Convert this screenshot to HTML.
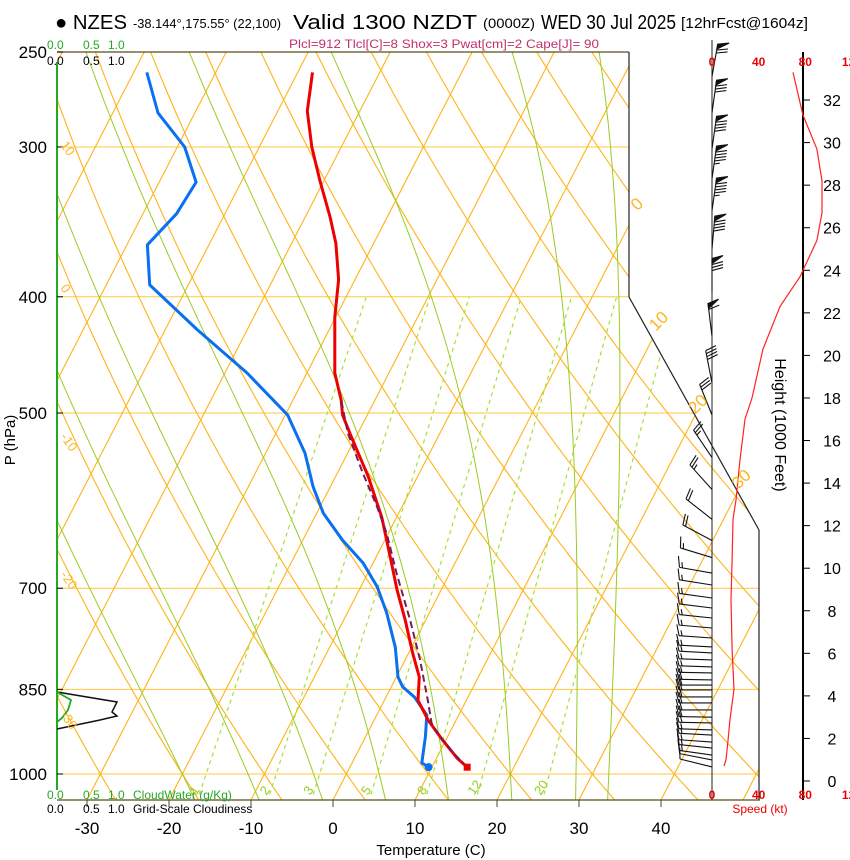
<!DOCTYPE html>
<html><head><meta charset="utf-8">
<style>
html,body{margin:0;padding:0;background:#fff;}
svg{display:block;font-family:"Liberation Sans",Arial,sans-serif;}
</style></head>
<body>
<svg id="chart" width="850" height="860" viewBox="0 0 850 860" xmlns="http://www.w3.org/2000/svg">
<defs>
<clipPath id="plotclip"><polygon points="57,52 629,52 629,297 759,530 759,800 57,800"/></clipPath>
</defs>
<g id="header">
<text x="55" y="29" font-size="20" textLength="72" lengthAdjust="spacingAndGlyphs">● NZES</text>
<text x="133" y="28" font-size="13" textLength="148" lengthAdjust="spacingAndGlyphs">-38.144°,175.55° (22,100)</text>
<text x="293" y="29" font-size="20" textLength="184" lengthAdjust="spacingAndGlyphs">Valid 1300 NZDT</text>
<text x="483" y="28" font-size="14" textLength="52" lengthAdjust="spacingAndGlyphs">(0000Z)</text>
<text x="541" y="29" font-size="20" textLength="135" lengthAdjust="spacingAndGlyphs">WED 30 Jul 2025</text>
<text x="681" y="28" font-size="15" textLength="127" lengthAdjust="spacingAndGlyphs">[12hrFcst@1604z]</text>
<text x="289" y="48" font-size="12" fill="#c0306b" textLength="310" lengthAdjust="spacingAndGlyphs">Plcl=912 Tlcl[C]=8 Shox=3 Pwat[cm]=2 Cape[J]= 90</text>
</g>
<g id="grid" clip-path="url(#plotclip)"></g>
<g id="frame"></g>
<g id="traces" clip-path="url(#plotclip)"></g>
<g id="barbs"></g>
<g id="labels"></g>
</svg>
<script>
// ---- data ----
const pressureTicks = [250, 300, 400, 500, 700, 850, 1000];
const tempTicks = [-30, -20, -10, 0, 10, 20, 30, 40];
const isothermLabels = [0, 10, 20, 30];
const adiabatLabels = [10, 0, -10, -20, -30];
const mixRatios = [1, 2, 3, 5, 8, 12, 20];
const moistThetaW = [-20, -12, -4, 4, 12, 20, 28, 32];
const heightTicks = [0, 2, 4, 6, 8, 10, 12, 14, 16, 18, 20, 22, 24, 26, 28, 30, 32];
const speedTicks = [0, 40, 80, 120];

const tempP = [987, 970, 937, 902, 868, 830, 793, 744, 702, 659, 611, 565, 524, 502, 488, 463, 416, 387, 361, 343, 320, 300, 280, 260];
const tempT = [14.3, 12.5, 9.6, 6.6, 4.1, 2.8, 0.5, -2.5, -5.4, -8.3, -11.8, -16.0, -20.5, -23.0, -24.1, -26.6, -30.1, -32.0, -34.6, -37.0, -40.5, -43.6, -46.4, -48.2];
const dewP = [987, 979, 931, 893, 863, 846, 830, 784, 734, 698, 667, 638, 606, 576, 540, 502, 463, 426, 391, 362, 341, 321, 300, 281, 260];
const dewT = [9.6, 8.5, 7.3, 6.1, 3.5, 1.4, 0.2, -2.0, -5.2, -8.0, -11.2, -15.2, -19.2, -22.1, -25.2, -29.7, -37.3, -46.1, -54.7, -57.5, -55.9, -55.5, -59.1, -64.5, -68.4];
const parcelP = [987, 959, 924, 907, 868, 803, 744, 680, 630, 599, 561, 520, 488];
const parcelT = [14.3, 11.6, 8.5, 7.2, 5.3, 1.8, -1.9, -6.5, -10.2, -13.0, -16.9, -21.2, -24.1];

const speedH = [0.7, 1.0, 1.9, 2.9, 4.3, 6.2, 8.5, 10.4, 12.3, 13.2, 15.1, 17.0, 18.0, 20.3, 22.3, 23.7, 25.4, 26.7, 28.2, 29.7, 31.3, 33.3];
const speedKt = [10.3, 12.0, 13.7, 15.4, 18.9, 17.2, 16.3, 17.2, 18.0, 20.6, 24.0, 28.3, 34.3, 43.7, 58.3, 75.5, 90, 94.3, 94.3, 90, 78, 69.5];

const barbH = [0.66, 0.99, 1.22, 1.55, 1.83, 2.16, 2.4, 2.73, 3.0, 3.34, 3.67, 3.95, 4.28, 4.51, 4.75, 5.08, 5.36, 5.69, 6.02, 6.3, 6.72, 7.19, 7.66, 8.13, 8.6, 9.21, 9.77, 10.5, 11.3, 12.3, 13.7, 15.2, 17.2, 18.7, 20.9, 23.0, 25.0, 26.8, 28.3, 29.7, 31.4, 33.1];
const barbDir = [284, 281, 278, 276, 274, 273, 272, 271, 271, 270, 270, 270, 270, 270, 271, 271, 272, 272, 273, 273, 274, 275, 276, 277, 278, 279, 280, 287, 298, 308, 318, 326, 338, 349, 353, 0, 5, 8, 8, 8, 8, 10];
const barbSpd = [10, 12, 14, 15, 16, 17, 17, 18, 18, 19, 19, 19, 19, 18, 18, 17, 17, 17, 17, 17, 17, 16, 16, 16, 16, 16, 17, 17, 18, 20, 23, 25, 30, 40, 60, 80, 90, 95, 95, 90, 80, 70];

// ---- axes ----
const X0 = 333, SX = 8.2, SK = 0.515, YB = 800, Y1000 = 774, KP = 520.8;
function yP(p) { return Y1000 - KP * Math.log(1000 / p); }
function xT(T, p) { return X0 + SX * T + SK * (YB - yP(p)); }
function pY(y) { return 1000 * Math.exp((y - Y1000) / KP); }
function yH(h) { return 781 - 21.28 * h; }
function xS(s) { return 712 + 1.166 * s; }

const NS = 'http://www.w3.org/2000/svg';
function mk(tag, attrs, parent) {
  const e = document.createElementNS(NS, tag);
  for (const k in attrs) e.setAttribute(k, attrs[k]);
  parent.appendChild(e);
  return e;
}
const grid = document.getElementById('grid');
const frame = document.getElementById('frame');
const traces = document.getElementById('traces');
const barbs = document.getElementById('barbs');
const labels = document.getElementById('labels');
const ORANGE = '#ffb31a', GREEN = '#99cc22', MIXG = '#a6e033';

// isobars
pressureTicks.forEach(p => {
  if (p === 250) return;
  const y = yP(p);
  const l = mk('line', {x1: 57, x2: 760, y1: y, y2: y, stroke: '#ffc840', 'stroke-width': 1}, grid);
  
  
});
// isotherms
for (let T = -130; T <= 50; T += 10) {
  const l = mk('line', {x1: xT(T, pY(YB)), y1: YB, x2: xT(T, 250), y2: 52, stroke: ORANGE, 'stroke-width': 1.1}, grid);
  
  
}
// dry adiabats
for (let th = -40; th <= 200; th += 10) {
  let d = '';
  for (let p = 1060; p >= 245; p -= 10) {
    const T = (th + 273.15) * Math.pow(p / 1000, 0.286) - 273.15;
    d += (d ? 'L' : 'M') + xT(T, p).toFixed(1) + ',' + yP(p).toFixed(1);
  }
  const l = mk('path', {d: d, fill: 'none', stroke: ORANGE, 'stroke-width': 1.1}, grid);
  
  
}
// moist adiabats
function es(T) { return 6.112 * Math.exp(17.67 * T / (T + 243.5)); }
function dTdp(T, p) {
  const Tk = T + 273.15, e = es(T), rs = 0.622 * e / (p - e);
  return (287 * Tk + 2.5e6 * rs) / (p * (1004 + 2.5e6 * 2.5e6 * rs * 0.622 / (287 * Tk * Tk)));
}
moistThetaW.forEach(tw => {
  const up = [], dn = [];
  let T = tw;
  for (let p = 1000; p >= 250; p -= 5) { up.push([p, T]); T -= dTdp(T, p) * 5; }
  T = tw;
  for (let p = 1000; p <= 1060; p += 5) { dn.push([p, T]); T += dTdp(T, p) * 5; }
  const pts = dn.reverse().concat(up);
  const d = pts.map((q, i) => (i ? 'L' : 'M') + xT(q[1], q[0]).toFixed(1) + ',' + yP(q[0]).toFixed(1)).join('');
  const l = mk('path', {d: d, fill: 'none', stroke: GREEN, 'stroke-width': 1}, grid);
  
  
});
// mixing ratio lines
function tdFromW(w, p) {
  const e = w * p / (622 + w), a = Math.log(e / 6.112);
  return 243.5 * a / (17.67 - a);
}
mixRatios.forEach(w => {
  const p1 = 1040, p2 = 400;
  const l = mk('line', {x1: xT(tdFromW(w, p1), p1), y1: yP(p1), x2: xT(tdFromW(w, p2), p2), y2: yP(p2), stroke: MIXG, 'stroke-width': 1.2, 'stroke-dasharray': '4,4'}, grid);
  
  
  const lp = 1035;
  const lx = xT(tdFromW(w, lp), lp) - 4, ly = yP(lp) + 4;
  const t = mk('text', {x: lx, y: ly, 'font-size': 13, fill: '#99cc22', transform: 'rotate(-55 ' + lx + ' ' + ly + ')'}, labels);
  t.textContent = w;
  
  
});

// frame
[[57,52,629,52,'#5a4a1a'],[629,52,629,297,'#222'],[629,297,759,530,'#222'],[759,530,759,800,'#222'],[57,800,760,800,'#5a4a1a']].forEach(s => {
  const l = mk('line', {x1: s[0], y1: s[1], x2: s[2], y2: s[3], stroke: s[4], 'stroke-width': 1.2}, frame);
  
  
});
{
  const l = mk('line', {x1: 712, y1: 40, x2: 712, y2: 800, stroke: '#222', 'stroke-width': 1}, frame);
  
  
  const h = mk('line', {x1: 803, y1: 52, x2: 803, y2: 800, stroke: '#000', 'stroke-width': 2}, frame);
  
  
  const g = mk('line', {x1: 57, y1: 62, x2: 57, y2: 790, stroke: '#22aa22', 'stroke-width': 2}, frame);
  
  
}
// cloud profiles
{
  const c = mk('path', {d: 'M57,692 L117,702 L112,712 L117,716 L100,720 L57,729', fill: 'none', stroke: '#111', 'stroke-width': 1.5}, frame);
  
  
  const w = mk('path', {d: 'M57,692 L71,700 L68,710 L62,718 L57,722', fill: 'none', stroke: '#22aa22', 'stroke-width': 1.8}, frame);
  
  
}

// traces
function line(P, T, color, width, dash, name) {
  const d = P.map((p, i) => (i ? 'L' : 'M') + xT(T[i], p).toFixed(1) + ',' + yP(p).toFixed(1)).join('');
  const a = {d: d, fill: 'none', stroke: color, 'stroke-width': width, 'stroke-linejoin': 'round'};
  if (dash) a['stroke-dasharray'] = dash;
  const e = mk('path', a, traces);
  
  
}
line(dewP, dewT, '#0a6ff0', 3, null, 'dewpoint-trace');
line(tempP, tempT, '#ee0000', 3, null, 'temperature-trace');
line(parcelP, parcelT, '#7a1a5a', 2, '7,4', 'parcel-trace');
{
  const d = mk('circle', {cx: xT(dewT[0], dewP[0]), cy: yP(dewP[0]), r: 4, fill: '#0a6ff0'}, traces);
  
  
  const t = mk('rect', {x: xT(tempT[0], tempP[0]) - 3.5, y: yP(tempP[0]) - 3.5, width: 7, height: 7, fill: '#ee0000'}, traces);
  
  
}
// wind speed profile
{
  const d = speedH.map((h, i) => (i ? 'L' : 'M') + xS(speedKt[i]).toFixed(1) + ',' + yH(h).toFixed(1)).join('');
  const e = mk('path', {d: d, fill: 'none', stroke: '#ff2222', 'stroke-width': 1.2}, labels);
  
  
}
// wind barbs
barbH.forEach((h, i) => {
  const bx = 712, by = yH(h), a = barbDir[i] * Math.PI / 180;
  const ux = Math.sin(a), uy = -Math.cos(a), L = 33;
  const fx = -uy, fy = ux;
  const g = mk('g', {stroke: '#111', 'stroke-width': 1.1, fill: '#111'}, barbs);
  
  
  mk('line', {x1: bx, y1: by, x2: bx + ux * L, y2: by + uy * L}, g);
  let s = Math.round(barbSpd[i] / 5) * 5, pos = L;
  const FL = 11;
  const ox = fx * FL + ux * 3, oy = fy * FL + uy * 3;
  while (s >= 50) {
    const px = bx + ux * pos, py = by + uy * pos, qx = bx + ux * (pos - 5), qy = by + uy * (pos - 5);
    mk('polygon', {points: px + ',' + py + ' ' + (px + ox) + ',' + (py + oy) + ' ' + qx + ',' + qy}, g);
    pos -= 6; s -= 50;
  }
  while (s >= 10) {
    const px = bx + ux * pos, py = by + uy * pos;
    mk('line', {x1: px, y1: py, x2: px + ox, y2: py + oy}, g);
    pos -= 3; s -= 10;
  }
  if (s >= 5) {
    if (pos === L) pos -= 3;
    const px = bx + ux * pos, py = by + uy * pos;
    mk('line', {x1: px, y1: py, x2: px + ox / 2, y2: py + oy / 2}, g);
  }
});

// labels
function txt(x, y, s, size, fill, name, anchor, extra) {
  const t = mk('text', Object.assign({x: x, y: y, 'font-size': size, fill: fill, 'text-anchor': anchor || 'start'}, extra || {}), labels);
  t.textContent = s;
  
  
  return t;
}
pressureTicks.forEach(p => {
  txt(47, yP(p) + 6, p, 17, '#000', 'pressure-tick-label', 'end');
  const tk = mk('line', {x1: 57, x2: 63, y1: yP(p), y2: yP(p), stroke: '#000'}, labels);
  
  
});
tempTicks.forEach(T => {
  const x = X0 + SX * T;
  txt(x, 834, T, 17, '#000', 'temperature-tick-label', 'middle');
  const tk = mk('line', {x1: x, x2: x, y1: 800, y2: 807, stroke: '#444'}, labels);
  
  
});
txt(431, 855, 'Temperature (C)', 15, '#000', 'x-axis-title', 'middle');
txt(15, 440, 'P (hPa)', 15, '#000', 'y-axis-title', 'middle', {transform: 'rotate(-90 15 440)'});
heightTicks.forEach(h => {
  const y = yH(h);
  txt(832, y + 6, h, 16, '#000', 'height-tick-label', 'middle');
  const tk = mk('line', {x1: 803, x2: 810, y1: y, y2: y, stroke: '#000'}, labels);
  
  
});
txt(775, 425, 'Height (1000 Feet)', 16, '#000', 'height-axis-title', 'middle', {transform: 'rotate(90 775 425)'});
speedTicks.forEach(s => {
  txt(xS(s), 66, s, 12, '#ee0000', 'speed-tick-label-top', 'middle', {'font-weight': 'bold'});
  txt(xS(s), 799, s, 12, '#ee0000', 'speed-tick-label-bottom', 'middle', {'font-weight': 'bold'});
});
txt(760, 813, 'Speed (kt)', 12, '#ee0000', 'speed-axis-title', 'middle');
isothermLabels.forEach((T, i) => {
  const yy = [208, 325, 408, 483][i];
  const xx = xT(T, pY(yy)) + 3;
  txt(xx, yy, T, 17, ORANGE, 'isotherm-label', 'middle', {transform: 'rotate(-45 ' + xx + ' ' + yy + ')'});
});
adiabatLabels.forEach((th, i) => {
  const yy = [145, 288, 437, 575, 715][i];
  txt(60, yy, th, 13, ORANGE, 'dry-adiabat-label', 'start', {transform: 'rotate(55 60 ' + yy + ')'});
});
[['0.0', 47], ['0.5', 83], ['1.0', 108]].forEach(a => {
  txt(a[1], 49, a[0], 12, '#22aa22', 'cloudwater-scale-top', 'start');
  txt(a[1], 65, a[0], 12, '#000', 'cloudiness-scale-top', 'start');
  txt(a[1], 799, a[0], 12, '#22aa22', 'cloudwater-scale-bottom', 'start');
  txt(a[1], 813, a[0], 12, '#000', 'cloudiness-scale-bottom', 'start');
});
txt(133, 799, 'CloudWater (g/Kg)', 12, '#22aa22', 'cloudwater-title', 'start');
txt(133, 813, 'Grid-Scale Cloudiness', 12, '#000', 'cloudiness-title', 'start');
</script>
</body></html>
